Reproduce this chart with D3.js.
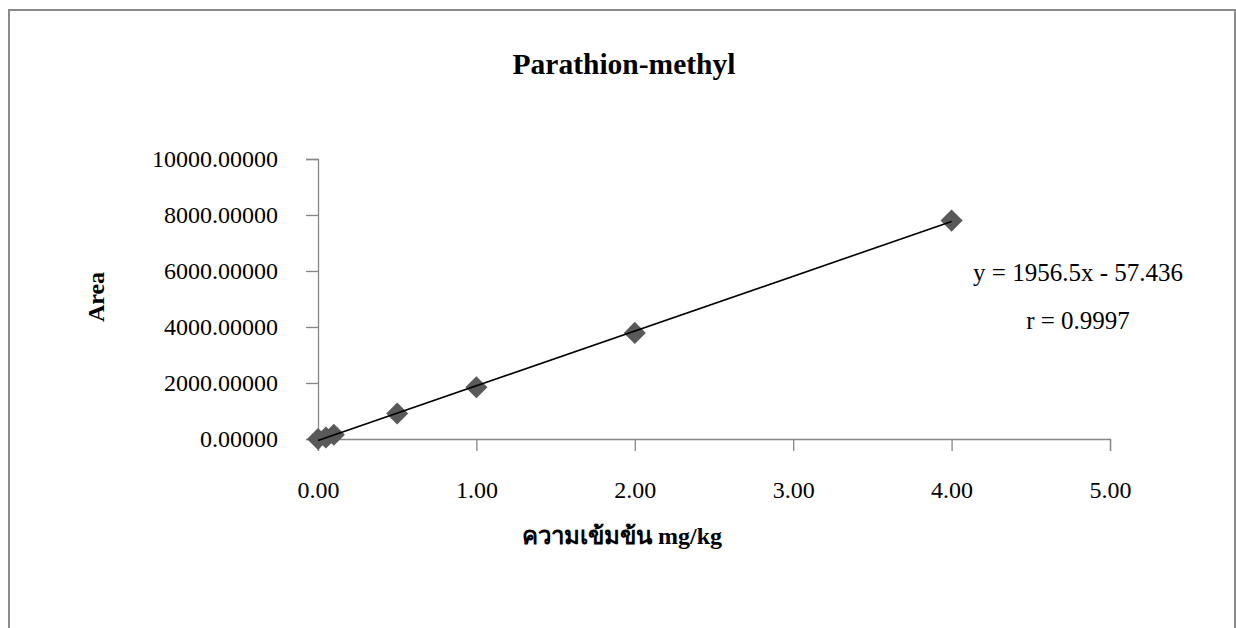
<!DOCTYPE html>
<html>
<head>
<meta charset="utf-8">
<script src="https://cdn.jsdelivr.net/npm/d3@7"></script>
<style>
  html, body { margin: 0; padding: 0; background: #fff; }
  svg { display: block; }
  text { font-family: "Liberation Serif", "Times New Roman", serif; fill: #000; }
</style>
</head>
<body>
<svg id="chart" width="1236" height="628"></svg>
<script>
// Calibration data: concentration (mg/kg) vs. peak area
const concentrations = [0, 0.05, 0.1, 0.5, 1, 2, 4];
const areas = [0, 55, 150, 910, 1850, 3790, 7800];

// Linear fit reported on the chart
const slope = 1956.5;
const intercept = -57.436;
const rValue = "0.9997";

const xTicks = [0, 1, 2, 3, 4, 5];
const yTicks = [0, 2000, 4000, 6000, 8000, 10000];

const chartTitle = "Parathion-methyl";
const xTitle = "ความเข้มข้น mg/kg";
const yTitle = "Area";

const svg = d3.select("#chart");

// Outer frame of the chart area
svg.append("rect")
  .attr("x", 9).attr("y", 10)
  .attr("width", 1226).attr("height", 640)
  .attr("fill", "none").attr("stroke", "#8a8a8a").attr("stroke-width", 2);

const plot = { left: 318, right: 1110, top: 159, bottom: 439 };

const x = d3.scaleLinear().domain([0, 5]).range([plot.left, plot.right]);
const y = d3.scaleLinear().domain([0, 10000]).range([plot.bottom, plot.top]);

const axisColor = "#868686";
const fontSize = 24;

// Y axis
const yAxis = svg.append("g")
  .attr("transform", `translate(${plot.left},0)`)
  .call(d3.axisLeft(y).tickValues(yTicks).tickSize(12).tickPadding(28)
    .tickFormat(d => d3.format(".5f")(d)));
yAxis.select(".domain").attr("stroke", axisColor).attr("stroke-width", 1.3);
yAxis.selectAll(".tick line").attr("stroke", axisColor).attr("stroke-width", 1.3);
yAxis.selectAll(".tick text")
  .attr("font-size", fontSize)
  .attr("font-family", "Liberation Serif, serif")
  .attr("fill", "#000");

// X axis
const xAxis = svg.append("g")
  .attr("transform", `translate(0,${plot.bottom})`)
  .call(d3.axisBottom(x).tickValues(xTicks).tickSize(12).tickPadding(30)
    .tickFormat(d => d3.format(".2f")(d)));
xAxis.select(".domain").attr("stroke", axisColor).attr("stroke-width", 1.3);
xAxis.selectAll(".tick line").attr("stroke", axisColor).attr("stroke-width", 1.3);
xAxis.selectAll(".tick text")
  .attr("font-size", fontSize)
  .attr("font-family", "Liberation Serif, serif")
  .attr("fill", "#000");

// Diamond markers
const diamond = d3.symbol().type(d3.symbolDiamond2).size(310);
svg.append("g").selectAll("path")
  .data(concentrations.map((c, i) => ({ c, a: areas[i] })))
  .join("path")
  .attr("d", diamond)
  .attr("transform", d => `translate(${x(d.c)},${y(d.a)})`)
  .attr("fill", "#595959");

// Fitted line across the measured range, drawn over the markers
const xMin = d3.min(concentrations), xMax = d3.max(concentrations);
svg.append("line")
  .attr("x1", x(xMin)).attr("y1", y(slope * xMin + intercept))
  .attr("x2", x(xMax)).attr("y2", y(slope * xMax + intercept))
  .attr("stroke", "#000").attr("stroke-width", 1.6);

// Title
svg.append("text")
  .attr("x", 624).attr("y", 74)
  .attr("text-anchor", "middle")
  .attr("font-size", 29.5).attr("font-weight", "bold")
  .text(chartTitle);

// Axis titles
svg.append("text")
  .attr("x", 622).attr("y", 544)
  .attr("text-anchor", "middle")
  .attr("font-size", fontSize).attr("font-weight", "bold")
  .text(xTitle);

svg.append("text")
  .attr("transform", "translate(104,297) rotate(-90)")
  .attr("text-anchor", "middle")
  .attr("font-size", fontSize).attr("font-weight", "bold")
  .text(yTitle);

// Regression annotation
const sign = intercept < 0 ? "-" : "+";
svg.append("text")
  .attr("x", 1078).attr("y", 281)
  .attr("text-anchor", "middle")
  .attr("font-size", 25)
  .text(`y = ${slope}x ${sign} ${Math.abs(intercept)}`);

svg.append("text")
  .attr("x", 1078).attr("y", 329)
  .attr("text-anchor", "middle")
  .attr("font-size", 25)
  .text(`r = ${rValue}`);
</script>
</body>
</html>
